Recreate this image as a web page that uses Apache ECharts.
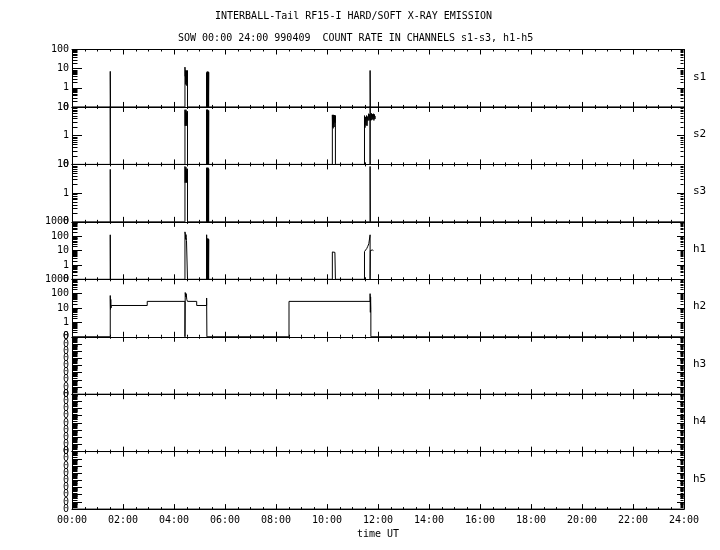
<!DOCTYPE html>
<html><head><meta charset="utf-8">
<script src="https://cdn.jsdelivr.net/npm/echarts@6/dist/echarts.min.js"></script>
<style>html,body{margin:0;padding:0;background:#fff}#c{width:720px;height:550px}</style>
</head><body><div id="c"></div>
<script>
const titleText = 'INTERBALL-Tail RF15-I HARD/SOFT X-RAY EMISSION';
const subtitleText = 'SOW 00:00 24:00 990409  COUNT RATE IN CHANNELS s1-s3, h1-h5';
const xAxisName = 'time UT';
const channels = ['s1', 's2', 's3', 'h1', 'h2', 'h3', 'h4', 'h5'];
// axis top = 10^n; axis bottom is labelled "0"
const yTopExponent = [2, 1, 1, 3, 3, 7, 7, 7];
const hourLabels = ['00:00','02:00','04:00','06:00','08:00','10:00','12:00','14:00','16:00','18:00','20:00','22:00','24:00'];

// [hour UT, count rate]
const s1 = [[0,0],[1.50,0],[1.50,7.2],[1.51,7.2],[1.51,0],
  [4.43,0],[4.43,12],[4.44,4],[4.45,8],[4.46,1.5],[4.47,7],[4.48,2],[4.49,8],[4.50,1.3],[4.51,6],[4.52,3],[4.53,8],[4.53,0],
  [5.28,0],[5.28,6.2],[5.29,0],[5.30,6.9],[5.31,0],[5.32,6.9],[5.33,0],[5.34,6.9],[5.35,0],[5.36,6.5],[5.36,0],
  [11.69,0],[11.69,8],[11.70,0],[24,0]];
const s2 = [[0,0],[1.50,0],[1.50,15],[1.51,15],[1.51,0],
  [4.43,0],[4.43,8],[4.44,2.2],[4.45,7],[4.46,2.5],[4.47,8],[4.48,2.2],[4.49,6],[4.50,3],[4.51,7],[4.52,2.5],[4.53,7],[4.53,0],
  [5.28,0],[5.28,8],[5.29,0],[5.30,8],[5.31,0],[5.32,8],[5.33,0],[5.34,7.5],[5.35,0],[5.36,7.5],[5.36,0],
  [10.21,0],[10.21,5.3],[10.22,2],[10.23,5],[10.24,1.8],[10.25,5.3],[10.26,2.5],[10.27,4.8],[10.28,2],[10.29,5.2],[10.30,3],[10.31,5],[10.32,2.8],[10.33,5],[10.33,0],
  [11.47,0],[11.47,5],[11.49,1.9],[11.51,4.5],[11.53,2.3],[11.55,5],[11.57,2.2],[11.59,4.6],[11.61,3.4],[11.63,5.8],[11.65,3.4],[11.67,5.5],[11.69,3.6],[11.69,0],[11.69,15],[11.70,4],[11.72,3.4],[11.74,6],[11.76,3.5],[11.78,5.6],[11.80,3.8],[11.82,5.8],[11.84,3.4],[11.86,5.5],[11.88,3.8],[11.89,4.8]];
const s3 = [[0,0],[1.50,0],[1.50,6.7],[1.51,6.7],[1.51,0],
  [4.43,0],[4.43,8.5],[4.44,2.3],[4.45,7],[4.46,3],[4.47,8],[4.48,2.5],[4.49,6],[4.50,2.3],[4.51,7],[4.52,3],[4.53,7],[4.53,0],
  [5.28,0],[5.28,7.6],[5.29,0],[5.30,7.6],[5.31,0],[5.32,7.6],[5.33,0],[5.34,7.6],[5.35,0],[5.36,7],[5.36,0],
  [11.69,0],[11.69,8.5],[11.70,0],[24,0]];
const h1 = [[0,0],[1.50,0],[1.50,125],[1.51,125],[1.51,0],
  [4.43,0],[4.43,200],[4.45,130],[4.46,60],[4.47,130],[4.48,80],[4.49,50],[4.50,45],[4.51,50],[4.52,40],[4.53,50],[4.53,0],
  [5.28,0],[5.28,126],[5.29,0],[5.30,67],[5.31,0],[5.32,67],[5.33,0],[5.34,67],[5.35,0],[5.36,60],[5.36,0],
  [10.21,0],[10.21,8],[10.23,7.3],[10.25,8.5],[10.27,7.5],[10.29,8],[10.31,7.5],[10.33,8],[10.33,0],
  [11.47,0],[11.47,8.5],[11.50,9],[11.53,11],[11.56,14],[11.58,12],[11.60,20],[11.62,17],[11.64,30],[11.66,37],[11.68,25],[11.69,125],[11.69,0],[11.70,10],[11.74,9],[11.78,11],[11.82,10]];
const h2 = [[0,0],[1.50,0],[1.50,74],[1.51,8],[1.52,40],[1.53,10],[1.54,15],[2.95,15],[2.95,29],
  [4.43,29],[4.43,0],[4.44,120],[4.46,60],[4.48,100],[4.50,40],[4.53,29],[4.89,29],[4.89,15],[5.28,15],[5.28,50],[5.29,0],
  [8.51,0],[8.51,29],[11.69,29],[11.69,100],[11.70,5],[11.71,60],[11.72,8],[11.72,0],[24,0]];
const h3 = [[0,0],[24,0]];
const h4 = [[0,0],[24,0]];
const h5 = [[0,0],[24,0]];
const channelData = [s1, s2, s3, h1, h2, h3, h4, h5];

const FONT = 'DejaVu Sans Mono';
const toY = v => v > 0 ? Math.log10(v) : -1;
const GRID_TOP = 49.5, PANEL_H = 57.45, GRID_LEFT = 72, GRID_RIGHT = 36;

const grid = [], xAxis = [], yAxis = [], series = [], title = [];
title.push({text: titleText, left: 215, top: 11, padding: 0, textStyle: {fontFamily: FONT, fontSize: 10, fontWeight: 'normal', color: '#000'}});
title.push({text: subtitleText, left: 178, top: 33, padding: 0, textStyle: {fontFamily: FONT, fontSize: 10, fontWeight: 'normal', color: '#000'}});

channels.forEach((name, i) => {
  const top = GRID_TOP + i * PANEL_H;
  grid.push({left: GRID_LEFT, right: GRID_RIGHT, top: top, height: PANEL_H});
  title.push({text: name, left: 693, top: top + PANEL_H / 2 - 7, padding: 0, textStyle: {fontFamily: FONT, fontSize: 11, fontWeight: 'normal', color: '#000'}});
  const last = i === channels.length - 1;
  const xBase = {
    type: 'value', gridIndex: i, min: 0, max: 24, interval: 2,
    axisLine: {show: true, onZero: false, lineStyle: {color: '#000', width: 1}},
    axisTick: {show: true, inside: true, length: 5, lineStyle: {color: '#000'}},
    minorTick: {show: true, splitNumber: 4, length: 2, lineStyle: {color: '#000'}},
    splitLine: {show: false}, minorSplitLine: {show: false}
  };
  xAxis.push(Object.assign({}, xBase, {
    position: 'bottom',
    axisLabel: {show: last, fontFamily: FONT, fontSize: 10, color: '#000', margin: 6,
      formatter: v => hourLabels[Math.round(v / 2)]},
    name: last ? xAxisName : '', nameLocation: 'middle', nameGap: 20,
    nameTextStyle: {fontFamily: FONT, fontSize: 10, color: '#000'}
  }));
  xAxis.push(Object.assign({}, xBase, {position: 'top', axisLabel: {show: false}}));
  const n = yTopExponent[i];
  const yBase = {
    type: 'value', gridIndex: i, min: -1, max: n, interval: 1,
    axisLine: {show: true, onZero: false, lineStyle: {color: '#000', width: 1}},
    splitLine: {show: false}
  };
  const labelText = v => (n > 3 || v <= -1) ? '0' : String(Math.round(Math.pow(10, v)));
  const labelBase = {show: true, fontFamily: FONT, fontSize: 10, color: '#000', margin: 3,
    showMinLabel: true, showMaxLabel: true};
  // left axis with ticks; labels on every other decade (the rest come from the twin axis)
  yAxis.push(Object.assign({}, yBase, {
    position: 'left',
    axisTick: {show: true, inside: true, length: 10, lineStyle: {color: '#000'}},
    axisLabel: Object.assign({}, labelBase, {formatter: v => (Math.round(v + 1) % 2 === 0) ? labelText(v) : ''})
  }));
  yAxis.push(Object.assign({}, yBase, {
    position: 'right',
    axisTick: {show: true, inside: true, length: 7, lineStyle: {color: '#000'}},
    axisLabel: {show: false}
  }));
  yAxis.push(Object.assign({}, yBase, {
    position: 'left',
    axisLine: {show: false}, axisTick: {show: false},
    axisLabel: Object.assign({}, labelBase, {formatter: v => (Math.round(v + 1) % 2 === 1) ? labelText(v) : ''})
  }));
  // data line
  series.push({
    type: 'line', xAxisIndex: 2 * i, yAxisIndex: 3 * i,
    data: channelData[i].map(p => [p[0], toY(p[1])]),
    symbol: 'none', clip: true, animation: false,
    lineStyle: {color: '#000', width: 1}
  });
  // logarithmic minor ticks (2..9 in each decade), drawn via the axis scale
  const minor = [];
  for (let k = -1; k < n; k++) for (let m = 2; m <= 9; m++) minor.push([0, k + Math.log10(m)]);
  series.push({
    type: 'custom', xAxisIndex: 2 * i, yAxisIndex: 3 * i, data: minor, animation: false, silent: true,
    renderItem: (params, api) => {
      const v = api.value(1);
      const pl = api.coord([0, v]), pr = api.coord([24, v]);
      const y = Math.round(pl[1]) + 0.5;
      const xl = Math.round(pl[0]) + 0.5, xr = Math.round(pr[0]) - 0.5;
      return {type: 'group', children: [
        {type: 'line', shape: {x1: xl, y1: y, x2: xl + 5, y2: y}, style: {stroke: '#000', lineWidth: 1}},
        {type: 'line', shape: {x1: xr - 3, y1: y, x2: xr, y2: y}, style: {stroke: '#000', lineWidth: 1}}
      ]};
    }
  });
});

const chart = echarts.init(document.getElementById('c'), null, {renderer: 'canvas'});
chart.setOption({backgroundColor: '#fff', animation: false, title, grid, xAxis, yAxis, series});
</script></body></html>
